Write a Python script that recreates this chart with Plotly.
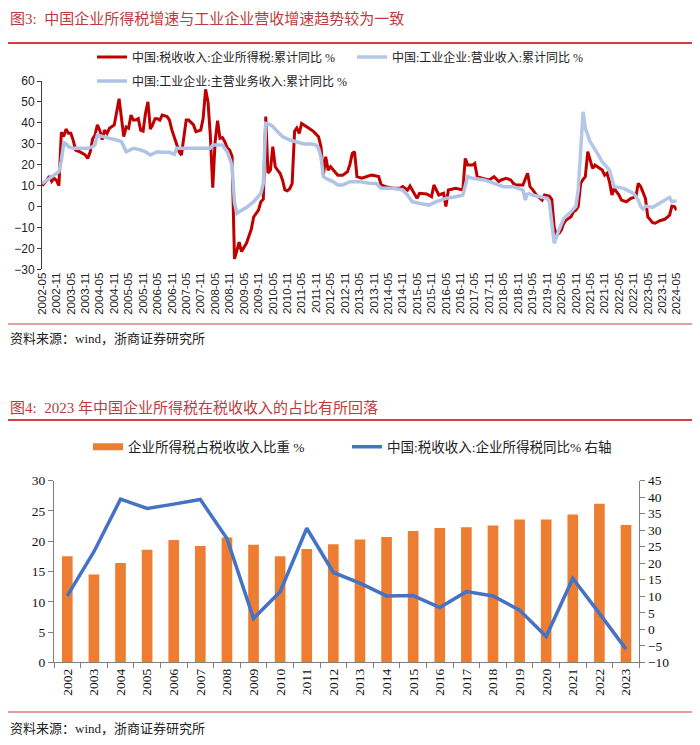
import plotly.graph_objects as go

# ---------------- data: chart 1 (monthly cumulative YoY, %) ----------------
tax_dates = ["2002-05","2002-07","2002-08","2002-09","2002-10","2002-11","2002-12",
 "2003-01","2003-02","2003-03","2003-04","2003-05","2003-06","2003-07","2003-09","2003-11","2003-12",
 "2004-01","2004-02","2004-03","2004-04","2004-05","2004-06","2004-07","2004-08","2004-09","2004-11","2004-12",
 "2005-01","2005-02","2005-03","2005-04","2005-05","2005-06","2005-07","2005-08","2005-09","2005-10","2005-11","2005-12",
 "2006-01","2006-02","2006-03","2006-04","2006-05","2006-06","2006-07","2006-09","2006-10","2006-11",
 "2007-01","2007-02","2007-03","2007-04","2007-05","2007-06","2007-08","2007-09","2007-11","2007-12",
 "2008-01","2008-02","2008-03","2008-04","2008-05","2008-06","2008-07","2008-08","2008-09","2008-10","2008-11","2008-12",
 "2009-01","2009-02","2009-03","2009-04","2009-06","2009-08","2009-09","2009-11","2009-12",
 "2010-01","2010-02","2010-03","2010-04","2010-05","2010-06","2010-07","2010-08","2010-09","2010-10","2010-11","2010-12",
 "2011-01","2011-02","2011-03","2011-04","2011-05","2011-06","2011-08","2011-10","2011-12",
 "2012-01","2012-02","2012-03","2012-04","2012-05","2012-07","2012-08","2012-10","2012-12",
 "2013-01","2013-02","2013-03","2013-04","2013-06","2013-08","2013-10","2013-11",
 "2014-01","2014-02","2014-04","2014-07","2014-10","2014-11",
 "2015-01","2015-02","2015-03","2015-05","2015-06","2015-09","2015-11","2015-12",
 "2016-02","2016-04","2016-05","2016-06","2016-09","2016-12",
 "2017-01","2017-02","2017-04","2017-05","2017-06","2017-08","2017-11",
 "2018-01","2018-03","2018-04","2018-06","2018-08","2018-09","2018-10",
 "2019-01","2019-03","2019-04","2019-05","2019-07","2019-08","2019-09","2019-10","2019-12",
 "2020-01","2020-02","2020-03","2020-04","2020-05","2020-06","2020-07","2020-09","2020-10","2020-11","2020-12",
 "2021-01","2021-02","2021-03","2021-04","2021-05","2021-06","2021-07","2021-08","2021-10","2021-11","2021-12",
 "2022-01","2022-02","2022-03","2022-05","2022-06","2022-08","2022-10","2022-12",
 "2023-01","2023-02","2023-04","2023-05","2023-07","2023-08","2023-10","2023-12",
 "2024-02","2024-03","2024-04","2024-05"]
tax_yoy = [10,12.5,14.5,12,13.5,12.5,10,
 35.5,33.5,37,35,35,31.5,27,26,24.6,23,
 26,32.4,34,39,36.5,32,36.5,35,37.4,39,45,
 51.5,42,33.4,38,37.4,43.7,41.3,41.3,42,36.5,36,44.5,
 50,37,39,42,42,41.3,43.7,43,41.3,36.5,
 29.4,26.2,24.6,34,41.3,41.3,39,35.8,36.5,42,
 56,50,34,9,31,41,32.6,33,31,28,27,24,
 -25,-21,-17,-21.5,-17.6,-11,-5,-1.7,2.3,
 3.5,43,16,17.4,28.6,19,17.4,15.9,12.7,8,7.5,8.5,
 11,36,37.5,35,39.7,39,37.4,35.8,33.4,
 28.6,15,23.8,17.4,19,16.6,15,15,16.6,
 20,25.4,26.2,14.3,13.5,14.3,15,14.8,
 14.3,10.3,9.5,8.7,8.7,9.5,
 7.9,9.8,8,3.9,6.3,6,4.7,10.3,
 5.5,6.3,0,7.9,8.7,7.9,
 23,19.8,19.8,20.6,14.3,13.5,12.7,
 14.3,11.9,12.7,13.5,12.7,11.1,10.3,
 10.3,15.9,9.5,8.2,5,3.9,3.1,5.5,5,
 3.5,-10,-13.6,-12.8,-11.2,-8,-6.5,-4.9,-2.5,-1.7,0,
 11,13,14.3,26.2,22.2,18.2,19.8,19,17.4,15,15.9,
 11.9,5.5,8.7,5.5,3.1,2.3,3.9,4.7,
 11.1,9.5,3.9,-4.9,-7.7,-8,-6.8,-6.1,
 -4.1,0.2,0,-1.7]

main_rev_dates = ["2002-05","2002-08","2002-10","2002-12","2003-01","2003-02","2003-03","2003-04","2003-06","2003-09","2003-12",
 "2004-02","2004-03","2004-04","2004-06","2004-09","2004-12","2005-02","2005-04","2005-07","2005-10","2005-12",
 "2006-02","2006-05","2006-07","2006-10","2006-12","2007-01","2007-05","2007-10","2008-03","2008-04","2008-08","2008-10","2008-12",
 "2009-01","2009-02","2009-03","2009-06","2009-09","2009-12","2010-01","2010-02","2010-04","2010-05","2010-07","2010-09","2010-12",
 "2011-03","2011-06","2011-09","2011-11","2011-12","2012-01","2012-02","2012-03","2012-06","2012-08","2012-10",
 "2013-01","2013-05","2013-09","2013-12","2014-02","2014-07","2014-11","2015-01","2015-03","2015-06","2015-10",
 "2016-01","2016-05","2016-09","2016-12","2017-01","2017-02","2017-04","2017-09","2018-01","2018-05","2018-09",
 "2019-01","2019-02","2019-03"]
main_rev_yoy = [11,13.5,15,16.6,22,30.5,30,28.6,27.8,27.8,27.8,
 28.6,29.4,34.2,33.4,32.6,31.8,31,26.2,27.8,27,26.2,
 24.6,26.2,26,25.9,24.9,27.8,27.8,27.8,27.8,29.4,29.4,26.2,19.8,
 2,-3.3,-2.5,-0.5,2.3,6.3,11,39.7,39,38.2,35.8,33.4,31.8,
 31,29.9,29.9,29.4,27.8,23.8,14.3,13.5,11.9,10.3,10.3,
 11.9,11.9,11.1,11,8.7,8.7,7.9,5.5,2.3,1.5,0.7,
 2.3,3.9,4.7,5.5,10,14.3,13.5,12.7,11.1,9.5,9.5,
 7.9,3.1,6.6]

op_rev_dates = ["2019-03","2019-05","2019-08","2019-11","2019-12","2020-02","2020-04","2020-06","2020-09","2020-11","2020-12",
 "2021-01","2021-02","2021-03","2021-05","2021-08","2021-10","2022-01","2022-03","2022-07","2022-11",
 "2023-01","2023-02","2023-03","2023-04","2023-07","2023-10","2023-12","2024-02","2024-03","2024-05"]
op_rev_yoy = [6.6,5.5,4.7,3.9,2.3,-17.6,-11.2,-5.7,-2.5,0,8,
 30,45.3,37.4,31,25.4,21.4,17.4,9.5,8.7,6.3,
 3,0,-1.2,0.2,-0.4,1.5,3.1,4.4,2.3,2.8]

# ---------------- data: chart 2 (annual) ----------------
years = [str(y) for y in range(2002, 2024)]
cit_share = [17.5,14.5,16.4,18.6,20.2,19.2,20.6,19.4,17.5,18.7,19.5,
             20.3,20.7,21.7,22.2,22.3,22.6,23.6,23.6,24.4,26.2,22.7]
cit_yoy = [10.1,23.5,39.4,36.6,37.9,39.3,27.5,3.3,11.4,30.6,17.2,
           14.0,10.1,10.2,6.6,11.4,10.1,5.8,-2.2,15.4,4.8,-6.0]

name_tax = "中国:税收收入:企业所得税:累计同比 %"
name_op = "中国:工业企业:营业收入:累计同比 %"
name_main = "中国:工业企业:主营业务收入:累计同比 %"
name_share = "企业所得税占税收收入比重 %"
name_yoy = "中国:税收收入:企业所得税同比% 右轴"

title1 = "图3:\u00a0\u00a0中国企业所得税增速与工业企业营收增速趋势较为一致"
title2 = "图4:\u00a0\u00a02023 年中国企业所得税在税收收入的占比有所回落"
source = "资料来源：wind，浙商证券研究所"

# ---------------- layout helpers ----------------
W, H = 700, 745
def fx(p): return p / W
def fy(p): return 1 - p / H

SERIF_CJK = "Liberation Serif, Noto Sans CJK SC"
SANS = "Liberation Sans, Arial"
RED = "#C00000"
LBLUE = "#B4C7E7"
LBLUE2 = "#AFC3E4"
ORANGE = "#ED7D31"
BLUE = "#4472C4"

def d(s): return s + "-01"

fig = go.Figure()
fig.add_trace(go.Scatter(x=[d(s) for s in tax_dates], y=tax_yoy, mode="lines", name=name_tax,
                         line=dict(color=RED, width=3), xaxis="x", yaxis="y", legend="legend"))
fig.add_trace(go.Scatter(x=[d(s) for s in op_rev_dates], y=op_rev_yoy, mode="lines", name=name_op,
                         line=dict(color=LBLUE, width=3.5), xaxis="x", yaxis="y", legend="legend3"))
fig.add_trace(go.Scatter(x=[d(s) for s in main_rev_dates], y=main_rev_yoy, mode="lines", name=name_main,
                         line=dict(color=LBLUE2, width=3.5), xaxis="x", yaxis="y", legend="legend4"))

fig.add_trace(go.Bar(x=years, y=cit_share, name=name_share, marker=dict(color=ORANGE, line=dict(width=0)),
                     xaxis="x2", yaxis="y2", showlegend=False))
fig.add_trace(go.Scatter(x=[None], y=[None], mode="lines", name=name_share,
                         line=dict(color=ORANGE, width=7), xaxis="x2", yaxis="y2", legend="legend2"))
fig.add_trace(go.Scatter(x=years, y=cit_yoy, mode="lines", name=name_yoy,
                         line=dict(color=BLUE, width=3.5), xaxis="x2", yaxis="y3", legend="legend5"))

# chart 1 geometry
c1x0, c1x1 = fx(42), fx(676.7)
c1y0, c1y1 = fy(269.3), fy(81)
# chart 2 geometry
c2x0, c2x1 = fx(54), fx(639.3)
c2y0, c2y1 = fy(662.3), fy(480.7)

xr = ["2002-05-01", "2024-05-01"]
yr1 = [-30, 60]

leg_common = dict(bgcolor="rgba(0,0,0,0)", font=dict(family=SERIF_CJK, size=12, color="#222"),
                  xanchor="left", yanchor="middle", orientation="h", itemclick=False)
leg_common2 = dict(leg_common, font=dict(family=SERIF_CJK, size=13.5, color="#222"))

fig.update_layout(
    template="none", width=W, height=H, margin=dict(l=0, r=0, t=0, b=0),
    paper_bgcolor="white", plot_bgcolor="white", bargap=0.6,
    font=dict(family=SANS, size=12, color="#222"),
    xaxis=dict(domain=[c1x0, c1x1], anchor="y", type="date", range=xr,
               tick0="2002-05-01", dtick="M6", tickformat="%Y-%m", tickangle=-90,
               showline=False, ticks="", showgrid=False, zeroline=False, automargin=False,
               tickfont=dict(family=SANS, size=11.5, color="#222")),
    xaxis3=dict(overlaying="x", anchor="free", position=c1y0 + (c1y1 - c1y0) * (0 - yr1[0]) / (yr1[1] - yr1[0]),
                type="date", range=xr, tick0="2002-05-01", dtick="M6", showticklabels=False,
                showline=True, linecolor="#404040", linewidth=1, ticks="outside", ticklen=4,
                tickcolor="#404040", showgrid=False, zeroline=False, layer="below traces", automargin=False),
    yaxis=dict(domain=[c1y0, c1y1], anchor="x", range=yr1, dtick=10, showline=True, linecolor="#404040",
               ticks="outside", ticklen=4, tickcolor="#404040", showgrid=False, zeroline=False,
               automargin=False, tickfont=dict(family=SANS, size=12, color="#222")),
    xaxis2=dict(domain=[c2x0, c2x1], anchor="y2", type="category", tickangle=-90, ticks="outside",
                tickson="boundaries", ticklen=5, tickcolor="#7F7F7F", showline=True, linecolor="#7F7F7F",
                showgrid=False, zeroline=False, automargin=False,
                tickfont=dict(family=SERIF_CJK, size=13.5, color="#111")),
    yaxis2=dict(domain=[c2y0, c2y1], anchor="x2", range=[0, 30], dtick=5, ticks="outside", ticklen=5,
                tickcolor="#7F7F7F", showline=True, linecolor="#7F7F7F", showgrid=False, zeroline=False,
                automargin=False, tickfont=dict(family=SERIF_CJK, size=13.5, color="#111")),
    yaxis3=dict(overlaying="y2", anchor="x2", side="right", range=[-10, 45], dtick=5, ticks="outside",
                ticklen=5, tickcolor="#7F7F7F", showline=True, linecolor="#7F7F7F", showgrid=False,
                zeroline=False, automargin=False, tickfont=dict(family=SERIF_CJK, size=13.5, color="#111")),
    legend=dict(leg_common, x=fx(92), y=fy(57)),
    legend3=dict(leg_common, x=fx(352), y=fy(57)),
    legend4=dict(leg_common, x=fx(92), y=fy(81)),
    legend2=dict(leg_common2, x=fx(88), y=fy(447)),
    legend5=dict(leg_common2, x=fx(347), y=fy(447)),
)

TITLE_RED = "#C0393B"
for ty, txt in [(19, title1), (407, title2)]:
    fig.add_annotation(xref="paper", yref="paper", x=fx(8), y=fy(ty), text=txt, showarrow=False,
                       xanchor="left", yanchor="middle", font=dict(family=SERIF_CJK, size=15, color=TITLE_RED))
for sy in [338, 728]:
    fig.add_annotation(xref="paper", yref="paper", x=fx(8), y=fy(sy), text=source, showarrow=False,
                       xanchor="left", yanchor="middle", font=dict(family=SERIF_CJK, size=13, color="#222"))
for ly, col in [(43, "#C00000"), (420, "#C00000"), (324, "#D88080"), (712, "#D88080")]:
    fig.add_shape(type="line", xref="paper", yref="paper", x0=fx(8), x1=fx(692), y0=fy(ly), y1=fy(ly),
                  line=dict(color=col, width=1.5))

fig.write_html("out.html", config={"displayModeBar": False},
               post_script="document.body.style.margin='0';")
